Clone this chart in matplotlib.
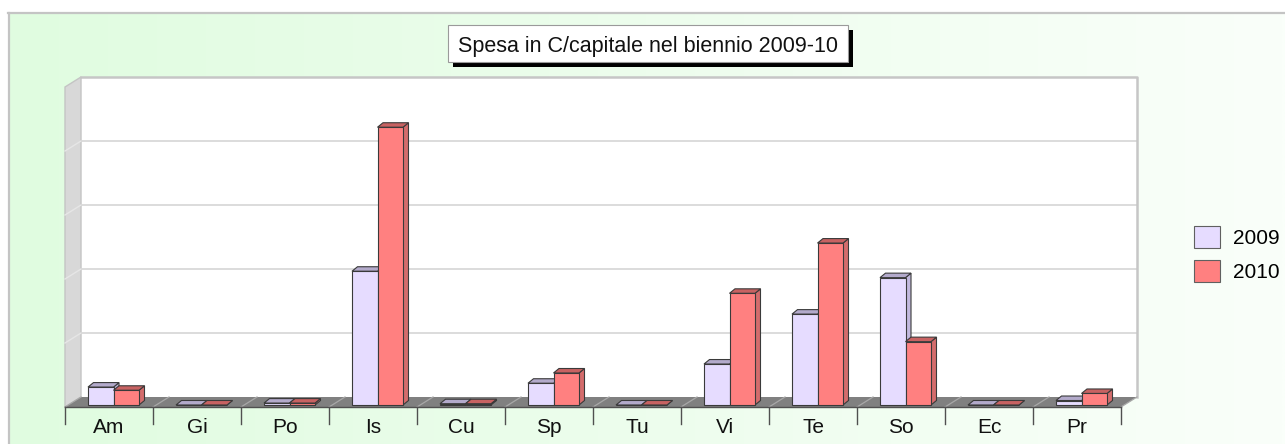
import numpy as np
import matplotlib
matplotlib.use("Agg")
import matplotlib.pyplot as plt
from matplotlib.patches import Polygon, Rectangle, Patch

# ---------------- data ----------------
categories = ['Am', 'Gi', 'Po', 'Is', 'Cu', 'Sp', 'Tu', 'Vi', 'Te', 'So', 'Ec', 'Pr']
spesa_2009 = [0.28, 0.0, 0.03, 2.09, 0.02, 0.34, 0.0, 0.64, 1.42, 1.99, 0.0, 0.07]
spesa_2010 = [0.23, 0.0, 0.03, 4.34, 0.02, 0.50, 0.0, 1.745, 2.53, 0.99, 0.0, 0.18]
series_labels = ['2009', '2010']
title = 'Spesa in C/capitale nel biennio 2009-10'
n_grid = 5

# ---------------- style ----------------
W, H = 1285, 444
FONT = ['Liberation Sans', 'DejaVu Sans']
plt.rcParams['font.family'] = FONT

front_cols = ['#E6DCFF', '#FF8080']
top_cols = ['#B3AACB', '#C86262']
side_cols = ['#C2B9DE', '#D46C6C']
edge_col = '#3A3A3A'

fig = plt.figure(figsize=(W / 100, H / 100), dpi=100)

# background (decoration, pixel space)
bg = fig.add_axes([0, 0, 1, 1], zorder=0)
bg.set_xlim(0, W)
bg.set_ylim(H, 0)
bg.axis('off')
c0 = np.array([224, 252, 224]) / 255.0
c1 = np.array([250, 255, 250]) / 255.0
t = np.linspace(0, 1, 256)
grad = (c0[None, :] * (1 - t[:, None]) + c1[None, :] * t[:, None])[None, :, :]
bg.imshow(grad, extent=(8, W, H, 13), aspect='auto', interpolation='bilinear', zorder=0)
bg.plot([8, W], [13.5, 13.5], color='#C4C4C4', lw=1.6, zorder=1)
bg.plot([8.5, 8.5], [13, H], color='#C4C4C4', lw=1.6, zorder=1)

# title box with shadow
bg.add_patch(Rectangle((453, 30), 400, 37, fc='black', ec='none', zorder=2))
bg.add_patch(Rectangle((448, 25), 400, 37, fc='white', ec='#9A9A9A', lw=0.8, zorder=3))
bg.text(648, 52, title, ha='center', va='baseline', fontsize=15.5, color='#111111', zorder=4)

# ---------------- main chart axes ----------------
SX, X0 = 88.0, 109.0      # px per category slot, px of slot 0 centre
SY, Y0 = 64.0, 405.0      # px per value unit, px of value 0 (bar front plane)
ax = fig.add_axes([0, 0, 1, 1], zorder=1)
ax.patch.set_visible(False)
ax.axis('off')
ax.set_xlim((0 - X0) / SX, (W - X0) / SX)
ax.set_ylim((Y0 - H) / SY, Y0 / SY)

n = len(categories)
fdx, fdy = 16 / SX, 10 / SY          # floor depth offsets
yf = -2 / SY                          # floor front level
yb = yf + fdy                         # floor back level
xl, xr = -0.5, n - 0.5

# back wall
ax.add_patch(Polygon([(xl + fdx, yb), (xr + fdx, yb), (xr + fdx, yb + n_grid), (xl + fdx, yb + n_grid)],
                     closed=True, fc='white', ec='none', zorder=1))
for k in range(1, n_grid):
    ax.plot([xl + fdx, xr + fdx], [yb + k, yb + k], color='#D2D2D2', lw=1.1, zorder=2)
ax.plot([xl + fdx, xr + fdx, xr + fdx], [yb + n_grid, yb + n_grid, yb], color='#C6C6C6', lw=1.8, zorder=2)

# left side wall
ax.add_patch(Polygon([(xl, yf), (xl + fdx, yb), (xl + fdx, yb + n_grid), (xl, yf + n_grid)],
                     closed=True, fc='#D8D8D8', ec='#C4C4C4', lw=1.0, zorder=2))
for k in range(1, n_grid):
    ax.plot([xl, xl + fdx], [yf + k, yb + k], color='#E6E6E6', lw=1.0, zorder=2)

# floor
ax.add_patch(Polygon([(xl, yf), (xr, yf), (xr + fdx, yb), (xl + fdx, yb)],
                     closed=True, fc='#808080', ec='none', zorder=3))
for i in range(n + 1):
    ax.plot([i - 0.5, i - 0.5 + fdx], [yf, yb], color='#A8A8A8', lw=0.9, zorder=3)

# x axis line and ticks
tick_len = 17 / SY
ax.plot([xl, xr], [yf, yf], color='#505050', lw=1.0, zorder=4)
for i in range(n + 1):
    ax.plot([i - 0.5, i - 0.5], [yf, yf - tick_len], color='#505050', lw=1.0, zorder=4)
for i, c in enumerate(categories):
    ax.text(i, (Y0 - 433) / SY, c, ha='center', va='baseline', fontsize=15, color='#111111', zorder=5)

# 3D bars
bw = 25.5 / SX
bx0 = -21 / SX
bdx, bdy = 5.5 / SX, 4.5 / SY


def bar3d(x, v, s, z):
    kw = dict(closed=True, ec=edge_col, lw=0.8, zorder=z)
    ax.add_patch(Polygon([(x + bw, 0), (x + bw + bdx, bdy), (x + bw + bdx, v + bdy), (x + bw, v)],
                         fc=side_cols[s], **kw))
    ax.add_patch(Polygon([(x, v), (x + bdx, v + bdy), (x + bw + bdx, v + bdy), (x + bw, v)],
                         fc=top_cols[s], **kw))
    ax.add_patch(Polygon([(x, 0), (x + bw, 0), (x + bw, v), (x, v)], fc=front_cols[s], **kw))


for i in range(n):
    for s, vals in enumerate([spesa_2009, spesa_2010]):
        bar3d(i + bx0 + s * bw, vals[i], s, 6 + s)

# legend
handles = [Patch(fc=front_cols[s], ec='#606060', lw=0.8) for s in range(2)]
fig.legend(handles, series_labels, loc='upper left',
           bbox_to_anchor=(1194 / W, 1 - 226 / H), bbox_transform=fig.transFigure,
           frameon=False, fontsize=15, handlelength=1.25, handleheight=1.25,
           handletextpad=0.62, labelspacing=0.58, borderpad=0, borderaxespad=0)

fig.savefig('out.png', dpi=100)
